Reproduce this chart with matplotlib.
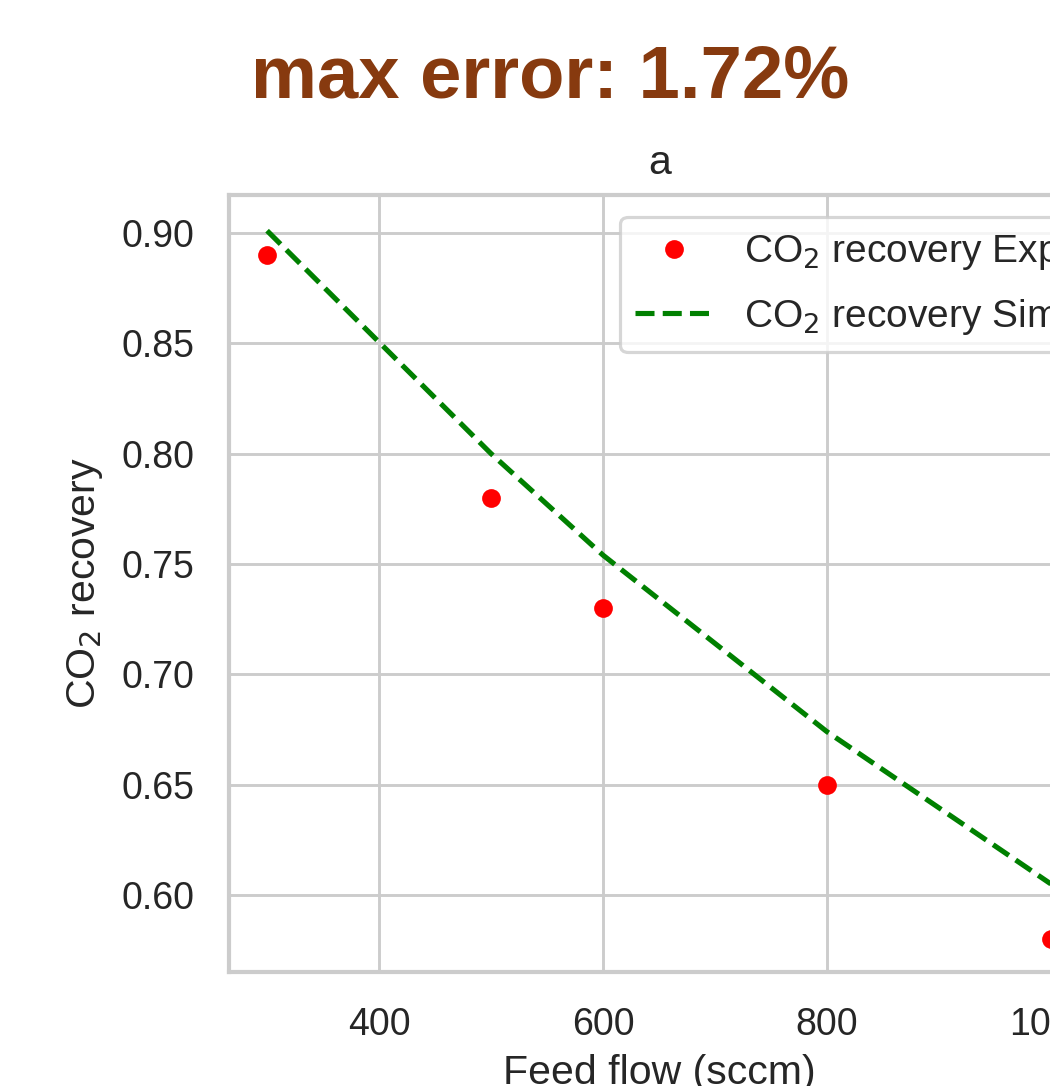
import matplotlib
matplotlib.use("Agg")
import matplotlib.pyplot as plt

# feed flow (sccm) and CO2 recovery values
feed_flow = [300, 500, 600, 800, 1000]
recovery_exp = [0.89, 0.78, 0.73, 0.65, 0.58]
recovery_sim = [0.901, 0.800, 0.754, 0.674, 0.605]
max_error = "1.72%"

plt.rcParams['font.family'] = ['Liberation Sans', 'DejaVu Sans']
plt.rcParams['text.color'] = '#262626'
plt.rcParams['axes.labelcolor'] = '#262626'
plt.rcParams['xtick.color'] = '#262626'
plt.rcParams['ytick.color'] = '#262626'

fig = plt.figure(figsize=(10.5, 10.86), dpi=100)
ax = fig.add_axes([0.2181, 0.1050, 0.8200, 0.7155])

ax.plot(feed_flow, recovery_exp, 'o', color='red', ms=13.5, mew=0,
        label=r'CO$_2$ recovery Experiment', zorder=3)
ax.plot(feed_flow, recovery_sim, '--', color='green', lw=3.7,
        label=r'CO$_2$ recovery Simulation', zorder=2)

ax.set_xlim(266, 1035)
ax.set_ylim(0.5651, 0.9172)
ax.set_xticks([400, 600, 800, 1000])
ax.set_yticks([0.60, 0.65, 0.70, 0.75, 0.80, 0.85, 0.90])
ax.set_yticklabels(['%.2f' % v for v in ax.get_yticks()])

ax.grid(True, color='#cccccc', lw=2.1)
ax.set_axisbelow(True)
for s in ax.spines.values():
    s.set_color('#cccccc')
    s.set_linewidth(3.0)
ax.tick_params(length=0, pad=25, labelsize=27)

ax.set_title('a', fontsize=29.5, pad=15)
ax.set_xlabel('Feed flow (sccm)', fontsize=29.5, labelpad=8)
ax.set_ylabel(r'CO$_2$ recovery', fontsize=29.5, labelpad=12)

leg = ax.legend(loc='upper left', bbox_to_anchor=(0.454, 0.972), borderaxespad=0,
                fontsize=28, labelspacing=0.63, handlelength=2.0, handletextpad=0.8,
                frameon=True, fancybox=True, framealpha=0.8)
leg.get_frame().set_edgecolor('#cccccc')
leg.get_frame().set_linewidth(2.3)

fig.text(550 / 1050, 1 - 98 / 1086, 'max error: ' + max_error, ha='center', va='baseline',
         fontsize=53.5, fontweight='bold', color='#873A0F')

fig.savefig('out.png', dpi=100)
